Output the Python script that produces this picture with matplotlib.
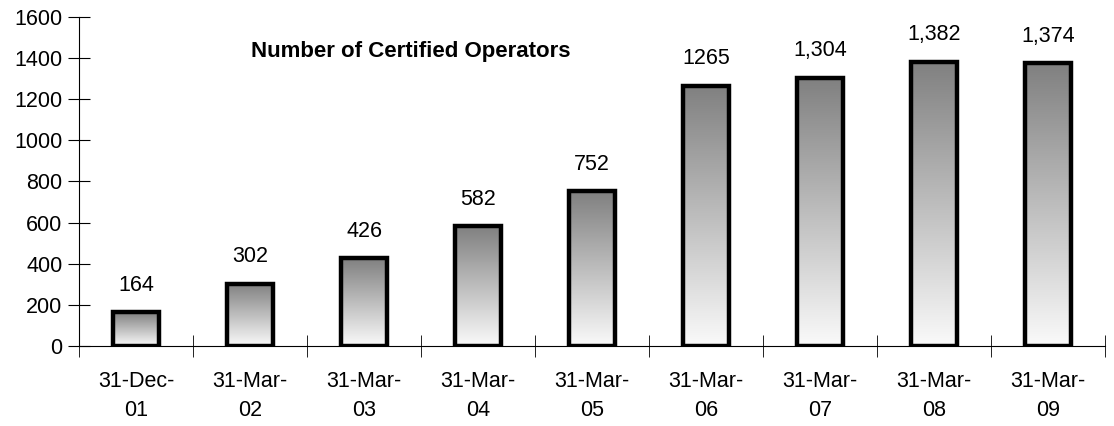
import numpy as np
import matplotlib
matplotlib.use("Agg")
import matplotlib.pyplot as plt
from matplotlib.colors import LinearSegmentedColormap

plt.rcParams['font.family'] = ['Liberation Sans', 'DejaVu Sans']

categories = ["31-Dec-\n01", "31-Mar-\n02", "31-Mar-\n03", "31-Mar-\n04", "31-Mar-\n05",
              "31-Mar-\n06", "31-Mar-\n07", "31-Mar-\n08", "31-Mar-\n09"]
operators = [164, 302, 426, 582, 752, 1265, 1304, 1382, 1374]
value_labels = ["164", "302", "426", "582", "752", "1265", "1,304", "1,382", "1,374"]

fig = plt.figure(figsize=(11.14, 4.26), dpi=100)
ax = fig.add_axes([0.071, 0.188, 0.921, 0.772])

x = np.arange(len(categories))
bars = ax.bar(x, operators, width=0.4, color='none', edgecolor='black', linewidth=3.2, zorder=3)

# fill every bar with a vertical grey gradient (dark at top, white at bottom)
cmap = LinearSegmentedColormap.from_list("grey", ["#fafafa", "#808080"])
grad = np.linspace(0, 1, 256).reshape(-1, 1)
for b in bars:
    x0, w, h = b.get_x(), b.get_width(), b.get_height()
    im = ax.imshow(grad, cmap=cmap, aspect='auto', origin='lower',
                   extent=[x0, x0 + w, 0, h], zorder=2)
    im.set_clip_path(b)

for xi, v, lab in zip(x, operators, value_labels):
    ax.annotate(lab, (xi, v), xytext=(0, 12), textcoords='offset points',
                ha='center', va='bottom', fontsize=15.5)

ax.set_xlim(-0.5, len(categories) - 0.5)
ax.set_ylim(0, 1600)
ax.set_yticks(np.arange(0, 1601, 200))
ax.tick_params(axis='y', direction='inout', length=16, labelsize=15.5, pad=4)

ax.set_xticks(x)
ax.set_xticklabels(categories, fontsize=15.5, linespacing=1.5)
ax.tick_params(axis='x', length=0, pad=18)
ax.set_xticks(np.arange(-0.5, len(categories)), minor=True)
ax.tick_params(axis='x', which='minor', direction='inout', length=16)

for s in ['top', 'right']:
    ax.spines[s].set_visible(False)

ax.text(2.41, 1430, "Number of Certified Operators", ha='center', va='center',
        fontsize=16, fontweight='bold')

fig.savefig("out.png", dpi=100)
